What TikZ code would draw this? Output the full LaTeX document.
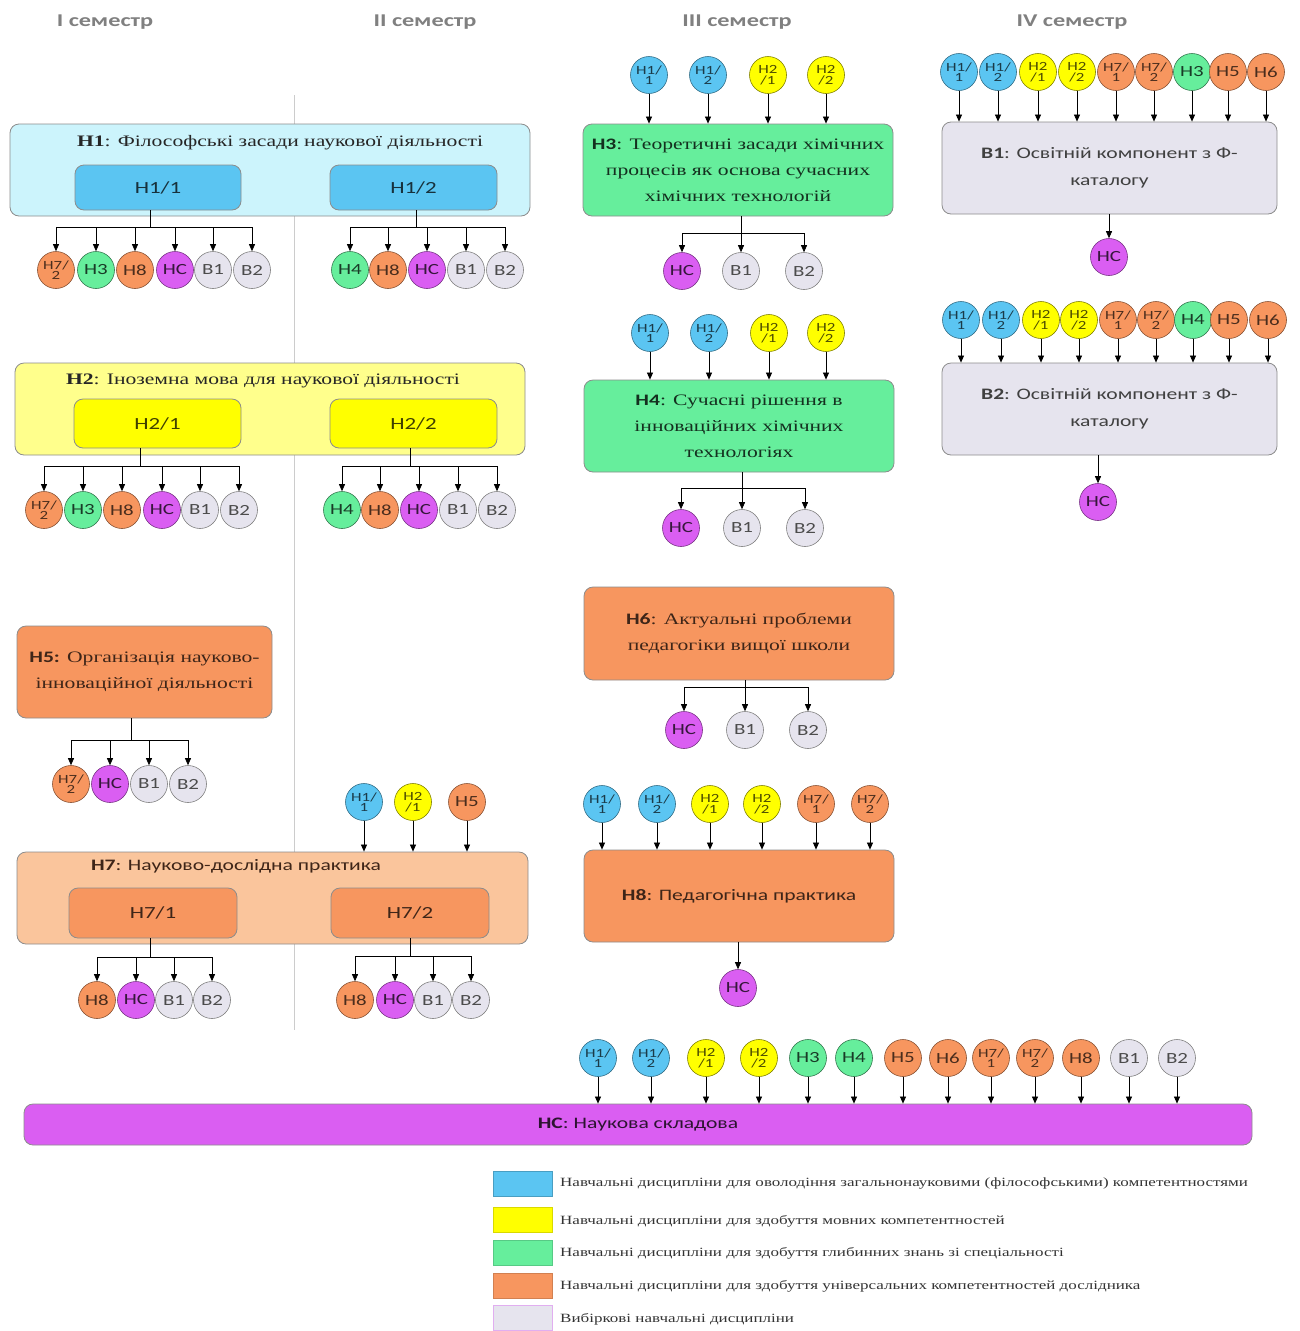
\documentclass[tikz,border=0pt]{standalone}
\usepackage{fontspec}
\setmainfont{Liberation Serif}[FakeStretch=1.35]
\newfontfamily\cf{Carlito}[FakeStretch=1.35]
\usetikzlibrary{arrows.meta}
\definecolor{cblue}{HTML}{5BC5F2}
\definecolor{ccyan}{HTML}{CCF4FC}
\definecolor{cyel}{HTML}{FFFF00}
\definecolor{cyell}{HTML}{FFFF8C}
\definecolor{cgrn}{HTML}{66EE9C}
\definecolor{corg}{HTML}{F7965F}
\definecolor{corgl}{HTML}{FAC59C}
\definecolor{cpur}{HTML}{DA5EF2}
\definecolor{cgry}{HTML}{E6E4EE}
\newcommand\cn[4]{\node[#1] (#2) at (#3) {#4};}
\tikzset{
  cir/.style={circle, minimum size=37pt, inner sep=0pt, line width=0.6pt, align=center, font=\cf\fontsize{15.5}{15.5}\selectfont},
  two/.style={font=\cf\fontsize{12.5}{10.5}\selectfont},
  cb/.style={cir, fill=cblue, draw=cblue!55!black, text=cblue!30!black},
  cy/.style={cir, fill=cyel, draw=cyel!50!black, text=cyel!30!black},
  cg/.style={cir, fill=cgrn, draw=cgrn!50!black, text=cgrn!25!black},
  co/.style={cir, fill=corg, draw=corg!55!black, text=corg!30!black},
  cp/.style={cir, fill=cpur, draw=cpur!55!black, text=cpur!25!black},
  cw/.style={cir, fill=cgry, draw=black!50, text=black!70},
  box/.style={rounded corners=9pt, draw=black!45, line width=0.8pt, inner sep=0pt, align=center},
  ttl/.style={font=\fontsize{16}{26}\selectfont, align=center},
  ctl/.style={font=\cf\fontsize{16}{27}\selectfont, align=center},
  arr/.style={-{Triangle[length=7pt,width=6pt]}, line width=0.7pt},
  ln/.style={line width=0.7pt},
  hdr/.style={font=\cf\bfseries\fontsize{18}{18}\selectfont, text=black!50},
  sw/.style={minimum width=59pt, minimum height=25pt, inner sep=0pt, line width=0.6pt},
  leg/.style={anchor=west, font=\fontsize{12.6}{12.6}\selectfont, text=black!80, inner sep=0pt}
}
\begin{document}
\begin{tikzpicture}[x=1pt,y=-1pt]
\useasboundingbox (0,0) rectangle (1300,1331);
% semester headers
\node[hdr] (s1) at (105,22) {I семестр};
\node[hdr] (s2) at (425,22) {II семестр};
\node[hdr] (s3) at (737,22) {III семестр};
\node[hdr] (s4) at (1072,22) {IV семестр};
\draw[black!20, line width=0.6pt] (294,95) coordinate (vt) -- (294,1030) coordinate (vb);

% ---------- H1 ----------
\node[box, fill=ccyan, minimum width=520pt, minimum height=92pt] (h1) at (270,170) {};
\node[ttl, text=black!85] (h1t) at (280,143) {\textbf{Н1}: Філософські засади наукової діяльності};
\node[box, fill=cblue, minimum width=166pt, minimum height=45pt, font=\cf\fontsize{17}{17}\selectfont, text=cblue!25!black] (h11) at (158,187.5) {Н1/1};
\node[box, fill=cblue, minimum width=167pt, minimum height=45pt, font=\cf\fontsize{17}{17}\selectfont, text=cblue!25!black] (h12) at (413.5,187.5) {Н1/2};
\cn{co,two}{a1}{56,270}{Н7/\\2}
\cn{cg}{a2}{96,270}{Н3}
\cn{co}{a3}{135,270}{Н8}
\cn{cp}{a4}{175,270}{НС}
\cn{cw}{a5}{213,270}{В1}
\cn{cw}{a6}{252,270}{В2}
\coordinate (k11) at (150,227);
\draw[ln] (k11 |- h11.south) -- (k11);
\foreach \n in {a1,a2,a3,a4,a5,a6} \draw[arr] (k11) -| (\n.north);
\cn{cg}{b1}{350,270}{Н4}
\cn{co}{b2}{388,270}{Н8}
\cn{cp}{b3}{427,270}{НС}
\cn{cw}{b4}{466,270}{В1}
\cn{cw}{b5}{505,270}{В2}
\coordinate (k12) at (416,227);
\draw[ln] (k12 |- h12.south) -- (k12);
\foreach \n in {b1,b2,b3,b4,b5} \draw[arr] (k12) -| (\n.north);

% ---------- H2 ----------
\node[box, fill=cyell, minimum width=510pt, minimum height=92pt] (h2) at (270,409) {};
\node[ttl, text=black!85] (h2t) at (263,381) {\textbf{Н2}: Іноземна мова для наукової діяльності};
\node[box, fill=cyel, minimum width=167pt, minimum height=49pt, font=\cf\fontsize{17}{17}\selectfont, text=cyel!25!black] (h21) at (157.5,423.5) {Н2/1};
\node[box, fill=cyel, minimum width=167pt, minimum height=49pt, font=\cf\fontsize{17}{17}\selectfont, text=cyel!25!black] (h22) at (413.5,423.5) {Н2/2};
\cn{co,two}{c1}{44,510}{Н7/\\2}
\cn{cg}{c2}{83,510}{Н3}
\cn{co}{c3}{122,510}{Н8}
\cn{cp}{c4}{162,510}{НС}
\cn{cw}{c5}{200,510}{В1}
\cn{cw}{c6}{239,510}{В2}
\coordinate (k21) at (140,466);
\draw[ln] (k21 |- h21.south) -- (k21);
\foreach \n in {c1,c2,c3,c4,c5,c6} \draw[arr] (k21) -| (\n.north);
\cn{cg}{d1}{342,510}{Н4}
\cn{co}{d2}{380,510}{Н8}
\cn{cp}{d3}{419,510}{НС}
\cn{cw}{d4}{458,510}{В1}
\cn{cw}{d5}{497,510}{В2}
\coordinate (k22) at (410,466);
\draw[ln] (k22 |- h22.south) -- (k22);
\foreach \n in {d1,d2,d3,d4,d5} \draw[arr] (k22) -| (\n.north);

% ---------- H5 ----------
\node[box, fill=corg, minimum width=255pt, minimum height=92pt, ttl, text=corg!25!black] (h5) at (144.5,672) {{\cf\bfseries Н5:} Організація науково-\\інноваційної діяльності};
\cn{co,two}{e1}{71,784}{Н7/\\2}
\cn{cp}{e2}{110,784}{НС}
\cn{cw}{e3}{149,784}{В1}
\cn{cw}{e4}{188,784}{В2}
\coordinate (k5) at (131,740);
\draw[ln] (k5 |- h5.south) -- (k5);
\foreach \n in {e1,e2,e3,e4} \draw[arr] (k5) -| (\n.north);

% ---------- H7 ----------
\node[box, fill=corgl, minimum width=511pt, minimum height=92pt] (h7) at (272.5,898) {};
\node[ctl, text=corg!25!black] (h7t) at (236,866) {\textbf{Н7}: Науково-дослідна практика};
\node[box, fill=corg, minimum width=168pt, minimum height=50pt, font=\cf\fontsize{17}{17}\selectfont, text=corg!25!black] (h71) at (153,913) {Н7/1};
\node[box, fill=corg, minimum width=158pt, minimum height=50pt, font=\cf\fontsize{17}{17}\selectfont, text=corg!25!black] (h72) at (410,913) {Н7/2};
\cn{cb,two}{f1}{364,802}{Н1/\\1}
\cn{cy,two}{f2}{413,802}{Н2\\/1}
\cn{co}{f3}{467,802}{Н5}
\foreach \n in {f1,f2,f3} \draw[arr] (\n.south) -- (\n.south |- h7.north);
\cn{co}{g1}{97,1000}{Н8}
\cn{cp}{g2}{136,1000}{НС}
\cn{cw}{g3}{174,1000}{В1}
\cn{cw}{g4}{212,1000}{В2}
\coordinate (k71) at (150,957);
\draw[ln] (k71 |- h71.south) -- (k71);
\foreach \n in {g1,g2,g3,g4} \draw[arr] (k71) -| (\n.north);
\cn{co}{g5}{355,1000}{Н8}
\cn{cp}{g6}{395,1000}{НС}
\cn{cw}{g7}{433,1000}{В1}
\cn{cw}{g8}{471,1000}{В2}
\coordinate (k72) at (410,956);
\draw[ln] (k72 |- h72.south) -- (k72);
\foreach \n in {g5,g6,g7,g8} \draw[arr] (k72) -| (\n.north);

% ---------- H3 ----------
\node[box, fill=cgrn, minimum width=310pt, minimum height=92pt, ttl, text=cgrn!20!black] (h3) at (738,170) {{\cf\bfseries Н3}: Теоретичні засади хімічних\\процесів як основа сучасних\\хімічних технологій};
\cn{cb,two}{p1}{649,75}{Н1/\\1}
\cn{cb,two}{p2}{708,75}{Н1/\\2}
\cn{cy,two}{p3}{768,75}{Н2\\/1}
\cn{cy,two}{p4}{826,75}{Н2\\/2}
\foreach \n in {p1,p2,p3,p4} \draw[arr] (\n.south) -- (\n.south |- h3.north);
\cn{cp}{q1}{682,271}{НС}
\cn{cw}{q2}{741,271}{В1}
\cn{cw}{q3}{804,271}{В2}
\coordinate (k3) at (741,233);
\draw[ln] (k3 |- h3.south) -- (k3);
\foreach \n in {q1,q2,q3} \draw[arr] (k3) -| (\n.north);

% ---------- H4 ----------
\node[box, fill=cgrn, minimum width=310pt, minimum height=92pt, ttl, text=cgrn!20!black] (h4) at (739,426) {{\cf\bfseries Н4}: Сучасні рішення в\\інноваційних хімічних\\технологіях};
\cn{cb,two}{r1}{650,333}{Н1/\\1}
\cn{cb,two}{r2}{709,333}{Н1/\\2}
\cn{cy,two}{r3}{769,333}{Н2\\/1}
\cn{cy,two}{r4}{826,333}{Н2\\/2}
\foreach \n in {r1,r2,r3,r4} \draw[arr] (\n.south) -- (\n.south |- h4.north);
\cn{cp}{s1c}{681,528}{НС}
\cn{cw}{s2c}{742,528}{В1}
\cn{cw}{s3c}{805,528}{В2}
\coordinate (k4) at (742,488);
\draw[ln] (k4 |- h4.south) -- (k4);
\foreach \n in {s1c,s2c,s3c} \draw[arr] (k4) -| (\n.north);

% ---------- H6 ----------
\node[box, fill=corg, minimum width=310pt, minimum height=93pt, ttl, text=corg!25!black] (h6) at (739,633.5) {{\cf\bfseries Н6}: Актуальні проблеми\\педагогіки вищої школи};
\cn{cp}{t1}{684,730}{НС}
\cn{cw}{t2}{745,730}{В1}
\cn{cw}{t3}{808,730}{В2}
\coordinate (k6) at (745,687);
\draw[ln] (k6 |- h6.south) -- (k6);
\foreach \n in {t1,t2,t3} \draw[arr] (k6) -| (\n.north);

% ---------- H8 ----------
\node[box, fill=corg, minimum width=310pt, minimum height=92pt, ctl, text=corg!25!black] (h8) at (739,896) {\textbf{Н8}: Педагогічна практика};
\cn{cb,two}{u1}{602,804}{Н1/\\1}
\cn{cb,two}{u2}{657,804}{Н1/\\2}
\cn{cy,two}{u3}{710,804}{Н2\\/1}
\cn{cy,two}{u4}{762,804}{Н2\\/2}
\cn{co,two}{u5}{816,804}{Н7/\\1}
\cn{co,two}{u6}{870,804}{Н7/\\2}
\foreach \n in {u1,u2,u3,u4,u5,u6} \draw[arr] (\n.south) -- (\n.south |- h8.north);
\cn{cp}{n8}{738,988}{НС}
\draw[arr] (n8.north |- h8.south) -- (n8.north);

% ---------- B1 ----------
\node[box, fill=cgry, minimum width=335pt, minimum height=92pt, ctl, text=black!75] (v1) at (1109.5,168) {\textbf{В1}: Освітній компонент з Ф-\\каталогу};
\cn{cb,two}{w1}{959,72}{Н1/\\1}
\cn{cb,two}{w2}{998,72}{Н1/\\2}
\cn{cy,two}{w3}{1038,72}{Н2\\/1}
\cn{cy,two}{w4}{1077,72}{Н2\\/2}
\cn{co,two}{w5}{1116,72}{Н7/\\1}
\cn{co,two}{w6}{1154,72}{Н7/\\2}
\cn{cg}{w7}{1192,72}{Н3}
\cn{co}{w8}{1228,72}{Н5}
\cn{co}{w9}{1266,72}{Н6}
\foreach \n in {w1,w2,w3,w4,w5,w6,w7,w8,w9} \draw[arr] (\n.south) -- (\n.south |- v1.north);
\cn{cp}{nv1}{1109,257}{НС}
\draw[arr] (nv1.north |- v1.south) -- (nv1.north);

% ---------- B2 ----------
\node[box, fill=cgry, minimum width=335pt, minimum height=92pt, ctl, text=black!75] (v2) at (1109.5,409) {\textbf{В2}: Освітній компонент з Ф-\\каталогу};
\cn{cb,two}{x1}{961,320}{Н1/\\1}
\cn{cb,two}{x2}{1001,320}{Н1/\\2}
\cn{cy,two}{x3}{1041,320}{Н2\\/1}
\cn{cy,two}{x4}{1079,320}{Н2\\/2}
\cn{co,two}{x5}{1118,320}{Н7/\\1}
\cn{co,two}{x6}{1156,320}{Н7/\\2}
\cn{cg}{x7}{1193,320}{Н4}
\cn{co}{x8}{1229,320}{Н5}
\cn{co}{x9}{1268,320}{Н6}
\foreach \n in {x1,x2,x3,x4,x5,x6,x7,x8,x9} \draw[arr] (\n.south) -- (\n.south |- v2.north);
\cn{cp}{nv2}{1098,502}{НС}
\draw[arr] (nv2.north |- v2.south) -- (nv2.north);

% ---------- NC bar ----------
\node[box, fill=cpur, minimum width=1228pt, minimum height=41pt, ctl, text=cpur!20!black] (nc) at (638,1124.5) {\textbf{НС}: Наукова складова};
\cn{cb,two}{z1}{598,1058}{Н1/\\1}
\cn{cb,two}{z2}{651,1058}{Н1/\\2}
\cn{cy,two}{z3}{706,1058}{Н2\\/1}
\cn{cy,two}{z4}{759,1058}{Н2\\/2}
\cn{cg}{z5}{808,1058}{Н3}
\cn{cg}{z6}{854,1058}{Н4}
\cn{co}{z7}{903,1058}{Н5}
\cn{co}{z8}{948,1058}{Н6}
\cn{co,two}{z9}{991,1058}{Н7/\\1}
\cn{co,two}{z10}{1035,1058}{Н7/\\2}
\cn{co}{z11}{1081,1058}{Н8}
\cn{cw}{z12}{1129,1058}{В1}
\cn{cw}{z13}{1177,1058}{В2}
\foreach \n in {z1,z2,z3,z4,z5,z6,z7,z8,z9,z10,z11,z12,z13} \draw[arr] (\n.south) -- (\n.south |- nc.north);

% ---------- legend ----------
\node[sw, fill=cblue, draw=cblue!80!black] (l1) at (522.5,1184) {};
\node[sw, fill=cyel, draw=cyel!85!black] (l2) at (522.5,1219.5) {};
\node[sw, fill=cgrn, draw=cgrn!85!black] (l3) at (522.5,1252.5) {};
\node[sw, fill=corg, draw=corg!85!black] (l4) at (522.5,1285.5) {};
\node[sw, fill=cgry, draw=cpur!40!cgry] (l5) at (522.5,1318) {};
\node[leg] (t1l) at (560,1183) {Навчальні дисципліни для оволодіння загальнонауковими (філософськими) компетентностями};
\node[leg] (t2l) at (560,1221) {Навчальні дисципліни для здобуття мовних компетентностей};
\node[leg] (t3l) at (560,1253) {Навчальні дисципліни для здобуття глибинних знань зі спеціальності};
\node[leg] (t4l) at (560,1286) {Навчальні дисципліни для здобуття універсальних компетентностей дослідника};
\node[leg] (t5l) at (560,1319) {Вибіркові навчальні дисципліни};
\end{tikzpicture}
\end{document}
